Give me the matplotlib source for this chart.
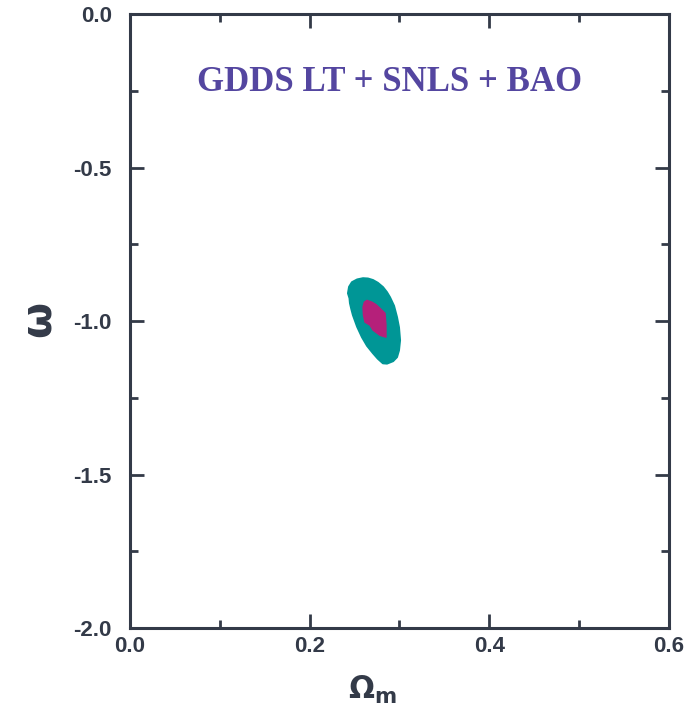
import matplotlib.pyplot as plt
import numpy as np
from matplotlib.ticker import MultipleLocator

# contour outlines (Omega_m, w)
om_outer = [0.2595, 0.2530, 0.2472, 0.2440, 0.2428, 0.2445, 0.2450, 0.2465,
            0.2483, 0.2530, 0.2584, 0.2640, 0.2706, 0.2760, 0.2817, 0.2862,
            0.2930, 0.2973, 0.2995, 0.3007, 0.2995, 0.2973, 0.2940, 0.2895,
            0.2860, 0.2817, 0.2760, 0.2706, 0.2650]
w_outer = [-0.860, -0.864, -0.873, -0.888, -0.909, -0.925, -0.941, -0.960,
           -0.980, -1.018, -1.052, -1.080, -1.104, -1.122, -1.137, -1.138,
           -1.130, -1.117, -1.095, -1.062, -1.020, -0.987, -0.950, -0.922,
           -0.905, -0.889, -0.875, -0.866, -0.861]
om_inner = [0.2639, 0.2695, 0.2740, 0.2784, 0.2840, 0.2850, 0.2851, 0.2784,
            0.2706, 0.2673, 0.2617, 0.2600, 0.2595, 0.2610]
w_inner = [-0.932, -0.938, -0.946, -0.958, -0.974, -1.010, -1.052, -1.046,
           -1.029, -1.013, -1.003, -0.980, -0.954, -0.938]

axcol = '#333a48'
plt.rcParams['font.family'] = ['Liberation Sans', 'DejaVu Sans']

fig = plt.figure(figsize=(6.88, 7.17), dpi=100)
ax = fig.add_axes([0.189, 0.124, 0.783, 0.856])

ax.fill(om_outer, w_outer, color='#009696', lw=1.5, ec='#009696',
        joinstyle='round')
ax.fill(om_inner, w_inner, color='#b5207a', lw=1, ec='#b5207a',
        joinstyle='round')

ax.set_xlim(0, 0.6)
ax.set_ylim(-2, 0)
ax.xaxis.set_major_locator(MultipleLocator(0.2))
ax.xaxis.set_minor_locator(MultipleLocator(0.1))
ax.yaxis.set_major_locator(MultipleLocator(0.5))
ax.yaxis.set_minor_locator(MultipleLocator(0.25))
ax.set_xticklabels([f'{v:.1f}' for v in ax.get_xticks()])
ax.set_yticklabels([f'{v:.1f}' for v in ax.get_yticks()])

for s in ax.spines.values():
    s.set_linewidth(2.2)
    s.set_color(axcol)
ax.tick_params(which='both', direction='in', top=True, right=True,
               color=axcol, width=2)
ax.tick_params(which='major', length=10, labelsize=16, labelcolor=axcol)
ax.tick_params(axis='x', which='major', pad=6)
ax.tick_params(axis='y', which='major', pad=13)
ax.tick_params(which='minor', length=6)
for lab in ax.get_xticklabels() + ax.get_yticklabels():
    lab.set_fontweight('bold')

ax.set_xlabel(r'$\mathbf{\Omega_m}$', fontsize=22, color=axcol)
ax.xaxis.set_label_coords(0.45, -0.075)
ax.set_ylabel(r'$\mathbf{\omega}$', fontsize=30, color=axcol)
ax.yaxis.set_label_coords(-0.13, 0.5)

ax.text(0.482, 0.889, 'GDDS LT + SNLS + BAO', transform=ax.transAxes,
        ha='center', va='center', fontsize=25, fontweight='bold',
        color='#5446a0', family='Liberation Serif')

plt.savefig('out.png')
